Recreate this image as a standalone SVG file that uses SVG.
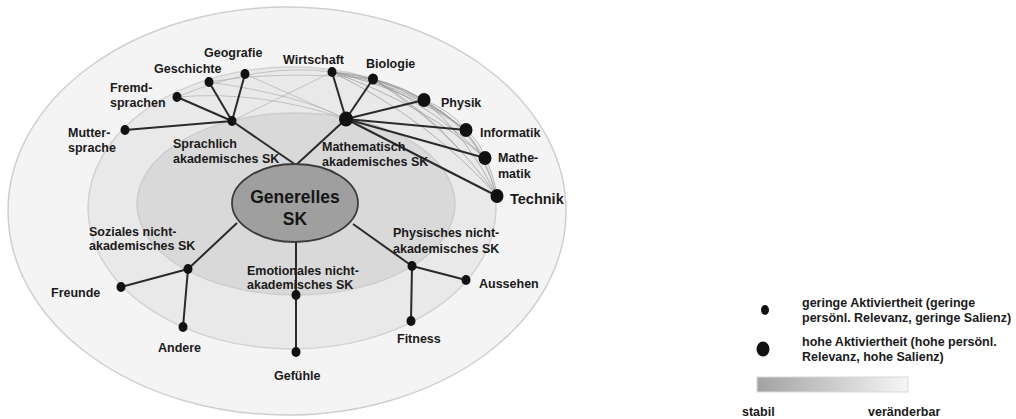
<svg xmlns="http://www.w3.org/2000/svg" width="1016" height="419" viewBox="0 0 1016 419">
<style>
.t{font-family:"Liberation Sans",Arial,sans-serif;font-weight:bold;font-size:12.5px;fill:#1a1a1a}
.big{font-size:17.5px;fill:#161616}
.tech{font-size:14.5px}
.ln{stroke:#2a2a2a;stroke-width:2;fill:none}
.gl{stroke:#8a8a8a;stroke-width:1;fill:none;opacity:0.6}
.gf{stroke:#b0b0b0;stroke-width:1;fill:none;opacity:0.7}
.n{fill:#111}
</style>
<defs>
<linearGradient id="bar" x1="0" y1="0" x2="1" y2="0">
<stop offset="0" stop-color="#a2a2a2"/>
<stop offset="1" stop-color="#f6f6f6"/>
</linearGradient>
</defs>
<rect width="1016" height="419" fill="#fff"/>
<g id="rings">
<ellipse cx="287" cy="211" rx="279" ry="204" fill="#f4f4f4" stroke="#cfcfcf" stroke-width="1.5"/>
<ellipse cx="292" cy="208" rx="204" ry="141" fill="#e9e9e9" stroke="#d2d2d2" stroke-width="1.5"/>
<ellipse cx="296" cy="204" rx="159" ry="91" fill="#d9d9d9" stroke="#cdcdcd" stroke-width="1.5"/>
</g>
<g id="connectors">
<g id="faint">
<path class="gf" d="M177,97 Q260,62 332,72"/>
<path class="gf" d="M209,82 Q280,70 373,79"/>
<path class="gf" d="M245,74 L346,119"/>
<path class="gf" d="M332,72 L232,121"/>
<path class="gf" d="M209,82 Q300,95 346,119"/>
<path class="gf" d="M177,97 Q260,90 346,119"/>
</g>
<g id="mathweb">
<path class="gl" d="M332,72 Q385,78 424,100"/>
<path class="gl" d="M332,72 Q410,90 466,130"/>
<path class="gl" d="M332,72 Q425,105 485,158"/>
<path class="gl" d="M332,72 Q430,120 497,196"/>
<path class="gl" d="M373,79 Q402,86 424,100"/>
<path class="gl" d="M373,79 Q428,98 466,130"/>
<path class="gl" d="M373,79 Q440,112 485,158"/>
<path class="gl" d="M373,79 Q450,128 497,196"/>
<path class="gl" d="M424,100 Q450,110 466,130"/>
<path class="gl" d="M424,100 Q463,122 485,158"/>
<path class="gl" d="M424,100 Q470,140 497,196"/>
<path class="gl" d="M466,130 Q480,142 485,158"/>
<path class="gl" d="M466,130 Q486,160 497,196"/>
<path class="gl" d="M485,158 Q494,175 497,196"/>
<path class="gl" d="M332,72 Q352,73 373,79"/>
<path class="gl" d="M332,72 Q400,84 450,118"/>
<path class="gl" d="M373,79 Q420,105 460,150"/>
</g>
<path class="ln" d="M296,165 L232,121"/>
<path class="ln" d="M232,121 L125,130"/>
<path class="ln" d="M232,121 L177,97"/>
<path class="ln" d="M232,121 L209,82"/>
<path class="ln" d="M232,121 L245,74"/>
<path class="ln" d="M296,165 L346,119"/>
<path class="ln" d="M346,119 L332,72"/>
<path class="ln" d="M346,119 L373,79"/>
<path class="ln" d="M346,119 L424,100"/>
<path class="ln" d="M346,119 L466,130"/>
<path class="ln" d="M346,119 L485,158"/>
<path class="ln" d="M346,119 L497,196"/>
<path class="ln" d="M237,223 L188,269"/>
<path class="ln" d="M188,269 L121,287"/>
<path class="ln" d="M188,269 L183,327"/>
<path class="ln" d="M296,242 L296,352"/>
<path class="ln" d="M353,224 L412,266"/>
<path class="ln" d="M412,266 L466,280"/>
<path class="ln" d="M412,266 L411,321"/>
</g>
<g id="generelles">
<ellipse cx="295" cy="203" rx="63" ry="39" fill="#9f9f9f" stroke="#3c3c3c" stroke-width="1.8"/>
<text class="t big" x="295" y="203" text-anchor="middle">Generelles</text>
<text class="t big" x="295" y="225" text-anchor="middle">SK</text>
</g>
<g id="sprachlich">
<ellipse class="n" cx="232" cy="121" rx="4.5" ry="5"/>
<text class="t" x="173" y="148">Sprachlich</text>
<text class="t" x="173" y="163">akademisches SK</text>
</g>
<g id="muttersprache">
<ellipse class="n" cx="125" cy="130" rx="4.5" ry="5"/>
<text class="t" x="68" y="137">Mutter-</text>
<text class="t" x="68" y="152">sprache</text>
</g>
<g id="fremdsprachen">
<ellipse class="n" cx="177" cy="97" rx="4.5" ry="5"/>
<text class="t" x="110" y="92">Fremd-</text>
<text class="t" x="110" y="107">sprachen</text>
</g>
<g id="geschichte">
<ellipse class="n" cx="209" cy="82" rx="4.5" ry="5"/>
<text class="t" x="154" y="73">Geschichte</text>
</g>
<g id="geografie">
<ellipse class="n" cx="245" cy="74" rx="4.5" ry="5"/>
<text class="t" x="204" y="57">Geografie</text>
</g>
<g id="mathematisch">
<ellipse class="n" cx="346" cy="119" rx="7" ry="7.5"/>
<text class="t" x="322" y="151">Mathematisch</text>
<text class="t" x="322" y="166">akademisches SK</text>
</g>
<g id="wirtschaft">
<ellipse class="n" cx="332" cy="72" rx="4.5" ry="5"/>
<text class="t" x="283" y="64">Wirtschaft</text>
</g>
<g id="biologie">
<ellipse class="n" cx="373" cy="79" rx="5" ry="5.5"/>
<text class="t" x="366" y="68">Biologie</text>
</g>
<g id="physik">
<ellipse class="n" cx="424" cy="100" rx="6.5" ry="7"/>
<text class="t" x="441" y="107">Physik</text>
</g>
<g id="informatik">
<ellipse class="n" cx="466" cy="130" rx="6.5" ry="7"/>
<text class="t" x="480" y="137">Informatik</text>
</g>
<g id="mathematik">
<ellipse class="n" cx="485" cy="158" rx="6.5" ry="7"/>
<text class="t" x="498" y="162">Mathe-</text>
<text class="t" x="498" y="178">matik</text>
</g>
<g id="technik">
<ellipse class="n" cx="497" cy="196" rx="6.5" ry="7"/>
<text class="t tech" x="510" y="204">Technik</text>
</g>
<g id="soziales">
<ellipse class="n" cx="188" cy="269" rx="4.5" ry="5"/>
<text class="t" x="89" y="236">Soziales nicht-</text>
<text class="t" x="89" y="250">akademisches SK</text>
</g>
<g id="freunde">
<ellipse class="n" cx="121" cy="287" rx="4.5" ry="5"/>
<text class="t" x="51" y="297">Freunde</text>
</g>
<g id="andere">
<ellipse class="n" cx="183" cy="327" rx="4.5" ry="5"/>
<text class="t" x="158" y="352">Andere</text>
</g>
<g id="emotionales">
<text class="t" x="247" y="275">Emotionales nicht-</text>
<text class="t" x="247" y="289">akademisches SK</text>
<ellipse class="n" cx="296" cy="295" rx="4.5" ry="5"/>
</g>
<g id="gefuehle">
<ellipse class="n" cx="296" cy="352" rx="4.5" ry="5"/>
<text class="t" x="274" y="380">Gefühle</text>
</g>
<g id="physisches">
<text class="t" x="393" y="237">Physisches nicht-</text>
<text class="t" x="393" y="253">akademisches SK</text>
<ellipse class="n" cx="412" cy="266" rx="4.5" ry="5"/>
</g>
<g id="aussehen">
<ellipse class="n" cx="466" cy="280" rx="4.5" ry="5"/>
<text class="t" x="479" y="288">Aussehen</text>
</g>
<g id="fitness">
<ellipse class="n" cx="411" cy="321" rx="4.5" ry="5"/>
<text class="t" x="397" y="343">Fitness</text>
</g>
<g id="legend">
<ellipse class="n" cx="765" cy="310" rx="4" ry="5"/>
<text class="t" x="802" y="307">geringe Aktiviertheit (geringe</text>
<text class="t" x="802" y="322">persönl. Relevanz, geringe Salienz)</text>
<ellipse class="n" cx="763" cy="349" rx="6.5" ry="7.5"/>
<text class="t" x="802" y="346">hohe Aktiviertheit (hohe persönl.</text>
<text class="t" x="802" y="361">Relevanz, hohe Salienz)</text>
<rect x="757" y="377" width="151" height="15" fill="url(#bar)" stroke="#d8d8d8" stroke-width="1"/>
<text class="t" x="742" y="416">stabil</text>
<text class="t" x="868" y="416">veränderbar</text>
</g>
</svg>
